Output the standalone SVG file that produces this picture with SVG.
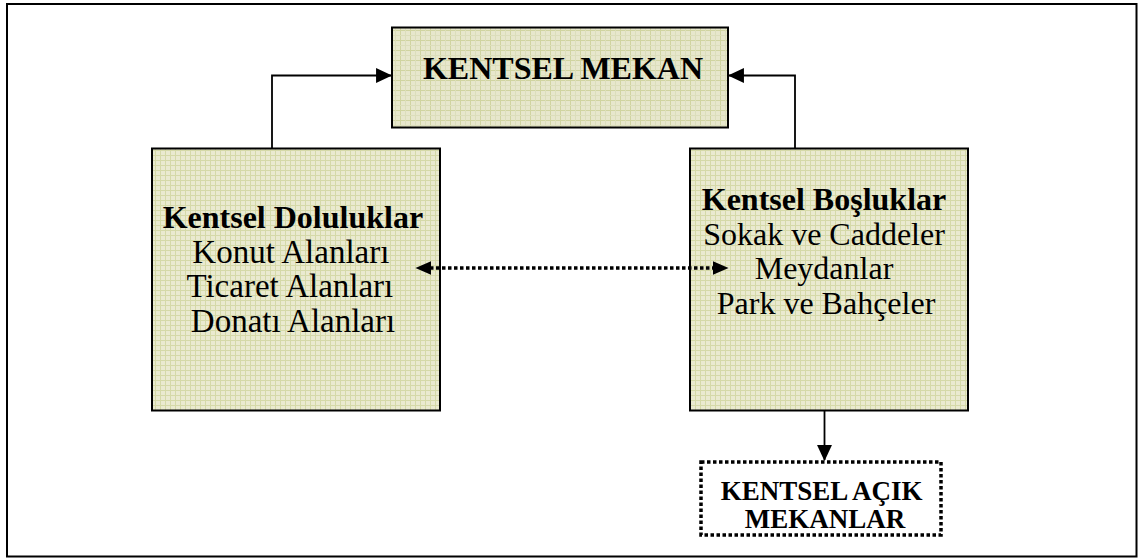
<svg xmlns="http://www.w3.org/2000/svg" width="1142" height="560" viewBox="0 0 1142 560">
  <defs>
    <pattern id="grid" width="5" height="5" patternUnits="userSpaceOnUse">
      <rect width="5" height="5" fill="#eaead0"/>
      <path d="M0,0.5 H5 M0.5,0 V5" stroke="#d5d9a8" stroke-width="1"/>
    </pattern>
    <pattern id="gridBig" width="10" height="10" patternUnits="userSpaceOnUse">
      <rect width="10" height="10" fill="#e7e7cc"/>
      <path d="M0,0.5 H10 M0.5,0 V10" stroke="#d0d4a0" stroke-width="1"/>
      <path d="M0,5.5 H10 M5.5,0 V10" stroke="#dcdebb" stroke-width="1"/>
    </pattern>
    <marker id="arrow" markerUnits="userSpaceOnUse" markerWidth="16" markerHeight="15" viewBox="0 0 15 14" refX="14" refY="7" orient="auto-start-reverse">
      <path d="M0,0 L15,7 L0,14 Z" fill="#000"/>
    </marker>
    <marker id="arrowD" markerUnits="userSpaceOnUse" markerWidth="16" markerHeight="14" viewBox="0 0 15 13" refX="7" refY="6.5" orient="auto-start-reverse">
      <path d="M0,0 L15,6.5 L0,13 Z" fill="#000"/>
    </marker>
    <style>
      .box { stroke: #000; stroke-width: 2; }
      .conn { fill: none; stroke: #000; stroke-width: 1.8; }
      .dot { fill: none; stroke: #000; stroke-width: 3.5; stroke-dasharray: 3.5 2.5; }
      .t { font-family: "Liberation Serif", "Times New Roman", serif; fill: #000; text-anchor: middle; }
      .b { font-weight: bold; }
    </style>
  </defs>

  <rect x="7" y="4" width="1129.5" height="552.5" fill="#fff" stroke="#000" stroke-width="2"/>

  <g id="kentsel-mekan">
    <rect class="box" x="392" y="27.5" width="336" height="100" fill="url(#gridBig)"/>
    <text class="t b" x="563" y="79" font-size="32">KENTSEL MEKAN</text>
  </g>

  <g id="kentsel-doluluklar">
    <rect class="box" x="152" y="148.5" width="288" height="262" fill="url(#grid)"/>
    <text class="t" font-size="33">
      <tspan class="b" x="297" y="228" font-size="32">Kentsel Doluluklar</tspan>
      <tspan x="295" y="262.5">Konut Alanları</tspan>
      <tspan x="294" y="297">Ticaret Alanları</tspan>
      <tspan x="293" y="331.5">Donatı Alanları</tspan>
    </text>
  </g>

  <g id="kentsel-bosluklar">
    <rect class="box" x="690" y="148.5" width="278" height="262" fill="url(#grid)"/>
    <text class="t" font-size="32">
      <tspan class="b" x="828" y="210">Kentsel Boşluklar</tspan>
      <tspan x="828" y="244.5">Sokak ve Caddeler</tspan>
      <tspan x="828" y="279">Meydanlar</tspan>
      <tspan x="826" y="313.5">Park ve Bahçeler</tspan>
    </text>
  </g>

  <g id="kentsel-acik-mekanlar">
    <rect class="dot" x="701" y="462" width="240" height="73" fill="#fff"/>
    <text class="t b" font-size="27">
      <tspan x="825" y="500">KENTSEL AÇIK</tspan>
      <tspan x="825" y="528">MEKANLAR</tspan>
    </text>
  </g>

  <g id="connectors">
    <path class="conn" d="M272,148 V75.5 H391" marker-end="url(#arrow)"/>
    <path class="conn" d="M795,148 V75.5 H729" marker-end="url(#arrow)"/>
    <path class="conn" d="M824.5,411 V460" marker-end="url(#arrow)"/>
    <path class="dot" d="M424,268 H720" marker-start="url(#arrowD)" marker-end="url(#arrowD)"/>
  </g>
</svg>
